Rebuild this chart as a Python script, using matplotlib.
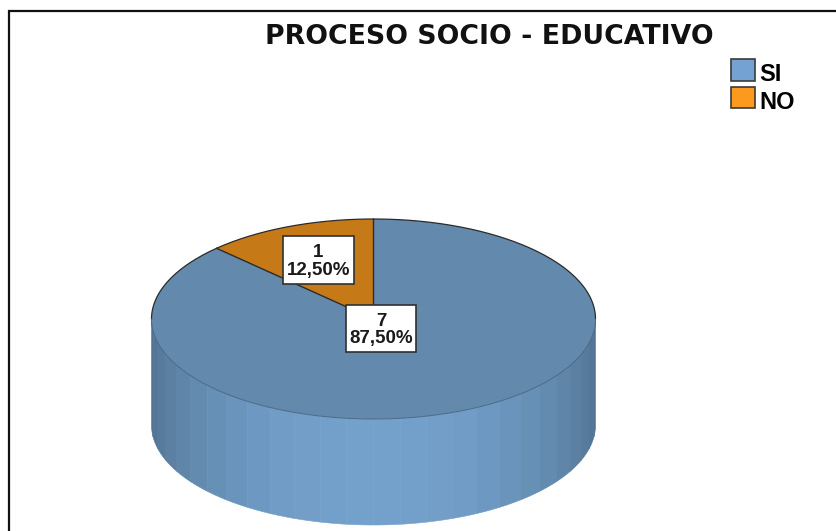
import numpy as np
import matplotlib.pyplot as plt
from matplotlib.patches import Polygon, Patch, Rectangle
from matplotlib.colors import to_rgb

title = "PROCESO SOCIO - EDUCATIVO"
categories = ["SI", "NO"]
counts = [7, 1]
percent_labels = ["87,50%", "12,50%"]
legend_colors = ["#74a3d3", "#fb9a1c"]
top_colors = ["#6389ac", "#c57a17"]

# pie geometry in image pixels
cx, cy = 373.5, 319
rx, ry = 222, 100
depth = 106
side_dark = "#50718f"
side_light = "#74a1cc"
n_bands = 26

plt.rcParams['font.family'] = ['Liberation Sans', 'DejaVu Sans']

fig = plt.figure(figsize=(8.37, 5.31), dpi=100)
ax = fig.add_axes([0, 0, 1, 1])
ax.set_xlim(0, 837)
ax.set_ylim(531, 0)
ax.axis('off')


def ellipse_xy(angles):
    # angles run counterclockwise from 12 o'clock
    return cx - rx * np.sin(angles), cy - ry * np.cos(angles)


# Side of the cylinder, drawn in flat bands like the original
edges = np.linspace(np.pi / 2, 3 * np.pi / 2, n_bands + 1)
dark, light = np.array(to_rgb(side_dark)), np.array(to_rgb(side_light))
for a0, a1 in zip(edges[:-1], edges[1:]):
    x, y = ellipse_xy(np.linspace(a0, a1, 8))
    pts = np.r_[np.c_[x, y], np.c_[x[::-1], y[::-1] + depth]]
    w = np.sin((a0 + a1) / 2 - np.pi / 2) ** 1.3
    col = dark + (light - dark) * w
    ax.add_patch(Polygon(pts, closed=True, fc=col, ec=col, lw=0.4))

# Top of the pie: NO goes counterclockwise from 12 o'clock, SI takes the rest
shares = np.array(counts) / sum(counts)
no_angle = shares[1] * 2 * np.pi
spans = [(no_angle, 2 * np.pi), (0, no_angle)]
for (a0, a1), col in zip(spans, top_colors):
    x, y = ellipse_xy(np.linspace(a0, a1, 200))
    pts = np.r_[[[cx, cy]], np.c_[x, y]]
    ax.add_patch(Polygon(pts, closed=True, fc=col, ec='none', zorder=3))

# Outline is dark on the back half and slice lines, faint along the front
x, y = ellipse_xy(np.linspace(-np.pi / 2, np.pi / 2, 200))
ax.plot(x, y, color='#2b2b2b', lw=0.9, zorder=3)
x, y = ellipse_xy(np.linspace(np.pi / 2, 3 * np.pi / 2, 200))
ax.plot(x, y, color='#4b6a88', lw=0.7, zorder=3)
x, y = ellipse_xy(np.array([no_angle, 0]))
ax.plot([x[0], cx, x[1]], [y[0], cy, y[1]], color='#2b2b2b', lw=1.0, zorder=3)

# Value labels
boxes = [(346, 305, 70, 47), (283, 236, 71, 48)]
for (bx, by, bw, bh), n, pct in zip(boxes, counts, percent_labels):
    ax.add_patch(Rectangle((bx, by), bw, bh, fc='white', ec='#303030', lw=1.2, zorder=4))
    ax.text(bx + bw / 2, by + bh / 2 + 1.5, f"{n}\n{pct}", ha='center', va='center', fontsize=13.5,
            fontweight='bold', color='#1a1a1a', linespacing=1.05, zorder=5)

# Frame: only the top and left lines show in the crop
ax.plot([9.5, 9.5, 837], [531, 11, 11], color='#111111', lw=1.6, solid_joinstyle='miter')

ax.text(489, 36.5, title, ha='center', va='center', fontsize=19.25, fontweight='bold', color='#111111',
        family=['DejaVu Sans'])

handles = [Patch(fc=c, ec='#3a3a3a', lw=1.2) for c in legend_colors]
leg = ax.legend(handles, categories, loc='upper left', bbox_to_anchor=(731 / 837, 1 - 59 / 531), frameon=False,
                borderpad=0, borderaxespad=0, handlelength=1.0, handleheight=1.05, handletextpad=0.2,
                labelspacing=0.15, prop={'size': 17, 'weight': 'bold'})
# legend text sits a little below the swatch centres
for t in leg.get_texts():
    t.set_y(-3)

fig.savefig("out.png", dpi=100)
